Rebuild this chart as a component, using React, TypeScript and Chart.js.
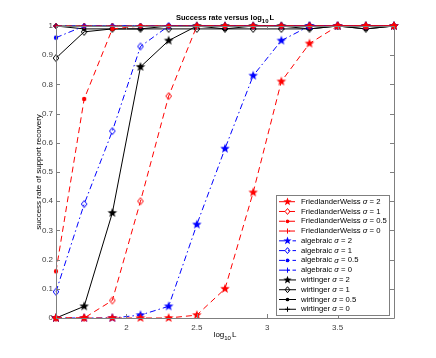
import React, { useEffect, useRef } from "react";
import { Chart, registerables } from "chart.js";

Chart.register(...registerables);

const logL = [1.5, 1.7, 1.9, 2.1, 2.3, 2.5, 2.7, 2.9, 3.1, 3.3, 3.5, 3.7, 3.9];
const xTicks = [2, 2.5, 3, 3.5];

const fw2 = [0, 0, 0, 0, 0, 0.01, 0.1, 0.43, 0.81, 0.94, 1, 1, 1];
const fw1 = [0, 0, 0.06, 0.4, 0.76, 1, 1, 1, 1, 1, 1, 1, 1];
const fw05 = [0.16, 0.75, 0.99, 1, 1, 1, 1, 1, 1, 1, 1, 1, 1];
const fw0 = [1, 1, 1, 1, 1, 1, 1, 1, 1, 1, 1, 1, 1];
const alg2 = [0, 0, 0, 0.01, 0.04, 0.32, 0.58, 0.83, 0.95, 1, 1, 1, 1];
const alg1 = [0.09, 0.39, 0.64, 0.93, 1, 1, 1, 1, 1, 1, 1, 1, 1];
const alg05 = [0.96, 1, 1, 1, 1, 1, 1, 1, 1, 1, 1, 1, 1];
const alg0 = [1, 1, 1, 1, 1, 1, 1, 1, 1, 1, 1, 1, 1];
const wir2 = [0, 0.04, 0.36, 0.86, 0.95, 1, 1, 1, 1, 1, 1, 1, 1];
const wir1 = [0.89, 0.98, 0.99, 0.99, 0.99, 0.99, 0.99, 0.99, 0.99, 0.99, 1, 0.99, 1];
const wir05 = [1, 0.99, 0.99, 0.99, 1, 1, 0.99, 1, 1, 0.99, 1, 0.99, 1];
const wir0 = [1, 1, 1, 1, 1, 1, 1, 1, 1, 1, 1, 1, 1];

const methods = ["FriedlanderWeiss", "algebraic", "wirtinger"];
const sigmas = ["2", "1", "0.5", "0"];
const methodColors = ["#ff0000", "#0000ff", "#000000"];
const methodDash = [[6, 4], [6, 3, 1.5, 3], []];
const seriesData = [
  [fw2, fw1, fw05, fw0],
  [alg2, alg1, alg05, alg0],
  [wir2, wir1, wir05, wir0],
];

function drawMarker(ctx: CanvasRenderingContext2D, kind: number, x: number, y: number, color: string, scale = 1) {
  ctx.save();
  ctx.setLineDash([]);
  ctx.strokeStyle = color;
  ctx.fillStyle = color;
  ctx.lineWidth = 1;
  if (kind === 0) {
    const R = 5 * scale, r = 2.1 * scale;
    ctx.beginPath();
    for (let i = 0; i < 10; i++) {
      const a = -Math.PI / 2 + (i * Math.PI) / 5;
      const rr = i % 2 === 0 ? R : r;
      const px = x + rr * Math.cos(a), py = y + rr * Math.sin(a);
      if (i === 0) ctx.moveTo(px, py); else ctx.lineTo(px, py);
    }
    ctx.closePath();
    ctx.fill();
  } else if (kind === 1) {
    ctx.beginPath();
    ctx.moveTo(x, y - 3.5 * scale);
    ctx.lineTo(x + 2.8 * scale, y);
    ctx.lineTo(x, y + 3.5 * scale);
    ctx.lineTo(x - 2.8 * scale, y);
    ctx.closePath();
    ctx.stroke();
  } else if (kind === 2) {
    ctx.beginPath();
    ctx.arc(x, y, 2.2 * scale, 0, Math.PI * 2);
    ctx.fill();
  } else {
    ctx.beginPath();
    ctx.moveTo(x - 3 * scale, y);
    ctx.lineTo(x + 3 * scale, y);
    ctx.moveTo(x, y - 3 * scale);
    ctx.lineTo(x, y + 3 * scale);
    ctx.stroke();
  }
  ctx.restore();
}

function markerImage(kind: number, color: string) {
  const c = document.createElement("canvas");
  c.width = 12;
  c.height = 12;
  const ctx = c.getContext("2d")!;
  drawMarker(ctx, kind, 6, 6, color);
  return c;
}

const FONT = "Liberation Sans, Arial, sans-serif";

function drawSubLabel(ctx: CanvasRenderingContext2D, pre: string, cx: number, y: number, bold: boolean) {
  const w = bold ? "bold " : "";
  const fs = bold ? 7.5 : 8;
  ctx.save();
  ctx.fillStyle = "#000";
  ctx.textBaseline = "alphabetic";
  ctx.font = `${w}${fs}px ${FONT}`;
  const a = pre + "log";
  const wa = ctx.measureText(a).width;
  const wl = ctx.measureText("L").width;
  ctx.font = `${w}6px ${FONT}`;
  const ws = ctx.measureText("10").width;
  const total = wa + ws + wl + 1;
  let x = cx - total / 2;
  ctx.font = `${w}${fs}px ${FONT}`;
  ctx.textAlign = "left";
  ctx.fillText(a, x, y);
  x += wa;
  ctx.font = `${w}6px ${FONT}`;
  ctx.fillText("10", x, y + 3);
  x += ws + 1;
  ctx.font = `${w}${fs}px ${FONT}`;
  ctx.fillText("L", x, y);
  ctx.restore();
}

const decorPlugin = {
  id: "decor",
  afterDraw(chart: any) {
    const ctx = chart.ctx as CanvasRenderingContext2D;
    const { left, right, top, bottom } = chart.chartArea;
    const xs = chart.scales.x, ys = chart.scales.y;
    ctx.save();
    ctx.strokeStyle = "#7f7f7f";
    ctx.lineWidth = 1;
    ctx.setLineDash([]);
    ctx.beginPath();
    ctx.moveTo(left + 0.5, top + 0.5);
    ctx.lineTo(right + 0.5, top + 0.5);
    ctx.lineTo(right + 0.5, bottom + 0.5);
    ctx.lineTo(left + 0.5, bottom + 0.5);
    ctx.closePath();
    ctx.stroke();
    ctx.beginPath();
    for (let v = 0; v <= 10; v++) {
      const py = Math.round(ys.getPixelForValue(v / 10)) + 0.5;
      ctx.moveTo(left, py); ctx.lineTo(left + 4, py);
      ctx.moveTo(right, py); ctx.lineTo(right - 4, py);
    }
    for (const t of xTicks) {
      const px = Math.round(xs.getPixelForValue(t)) + 0.5;
      ctx.moveTo(px, bottom); ctx.lineTo(px, bottom - 4);
      ctx.moveTo(px, top); ctx.lineTo(px, top + 4);
    }
    ctx.stroke();
    ctx.restore();

    drawSubLabel(ctx, "Success rate versus ", (left + right) / 2, 20, true);
    drawSubLabel(ctx, "", (left + right) / 2, 337, false);

    ctx.save();
    ctx.translate(39, (top + bottom) / 2);
    ctx.rotate(-Math.PI / 2);
    ctx.font = `8px ${FONT}`;
    ctx.fillStyle = "#000";
    ctx.textAlign = "center";
    ctx.textBaseline = "middle";
    ctx.fillText("success rate of support recovery", 0, 0);
    ctx.restore();

    // legend
    const lx = 276, ly = 195, lw = 113, lh = 120, rowH = 9.78;
    ctx.save();
    ctx.fillStyle = "#fff";
    ctx.fillRect(lx, ly, lw, lh);
    ctx.strokeStyle = "#7f7f7f";
    ctx.lineWidth = 1;
    ctx.strokeRect(lx + 0.5, ly + 0.5, lw, lh);
    for (let m = 0; m < 3; m++) {
      for (let s = 0; s < 4; s++) {
        const i = m * 4 + s;
        const yy = ly + 6.7 + i * rowH;
        ctx.strokeStyle = methodColors[m];
        ctx.lineWidth = 1;
        ctx.setLineDash(methodDash[m]);
        ctx.beginPath();
        ctx.moveTo(279, yy);
        ctx.lineTo(296, yy);
        ctx.stroke();
        ctx.setLineDash([]);
        drawMarker(ctx, s, 287.5, yy, methodColors[m], 0.85);
        ctx.fillStyle = "#000";
        ctx.textBaseline = "middle";
        ctx.textAlign = "left";
        let tx = 301;
        ctx.font = `7.7px ${FONT}`;
        const p1 = methods[m] + " ";
        ctx.fillText(p1, tx, yy);
        tx += ctx.measureText(p1).width;
        ctx.font = `italic 7.7px ${FONT}`;
        ctx.fillText("σ", tx, yy);
        tx += ctx.measureText("σ").width;
        ctx.font = `7.7px ${FONT}`;
        ctx.fillText(" = " + sigmas[s], tx, yy);
      }
    }
    ctx.restore();
  },
};

export default function App() {
  const ref = useRef<HTMLCanvasElement>(null);
  useEffect(() => {
    const datasets: any[] = [];
    for (let m = 0; m < 3; m++) {
      for (let s = 0; s < 4; s++) {
        const img = markerImage(s, methodColors[m]);
        datasets.push({
          label: `${methods[m]} σ = ${sigmas[s]}`,
          data: logL.map((x, k) => ({ x, y: seriesData[m][s][k] })),
          borderColor: methodColors[m],
          backgroundColor: methodColors[m],
          borderWidth: 1,
          borderDash: methodDash[m],
          pointStyle: img,
          pointRadius: 5,
          pointHoverRadius: 5,
          tension: 0,
          fill: false,
          clip: false,
        });
      }
    }
    const chart = new Chart(ref.current!, {
      type: "line",
      data: { datasets },
      options: {
        animation: false,
        responsive: false,
        events: [],
        layout: { padding: { top: 26, right: 42, left: 0, bottom: 0 } },
        plugins: { legend: { display: false }, title: { display: false }, tooltip: { enabled: false } },
        scales: {
          x: {
            type: "linear",
            min: 1.5,
            max: 3.9,
            afterBuildTicks: (s: any) => {
              s.ticks = xTicks.map((v) => ({ value: v }));
            },
            afterFit: (s: any) => {
              s.height = 40;
            },
            grid: { display: false, drawTicks: false, tickLength: 0 },
            border: { display: false },
            ticks: {
              font: { size: 8, family: FONT },
              color: "#404040",
              padding: 5,
              maxRotation: 0,
              autoSkip: false,
              callback: (v: any) => String(v),
            },
          },
          y: {
            min: 0,
            max: 1,
            afterFit: (s: any) => {
              s.width = 56;
            },
            grid: { display: false, drawTicks: false, tickLength: 0 },
            border: { display: false },
            ticks: {
              stepSize: 0.1,
              font: { size: 8, family: FONT },
              color: "#404040",
              padding: 3,
              callback: (v: any) => String(Math.round(Number(v) * 10) / 10),
            },
          },
        },
      },
      plugins: [decorPlugin],
    });
    return () => chart.destroy();
  }, []);
  return (
    <div style={{ position: "fixed", left: 0, top: 0, width: 436, height: 358, background: "#fff" }}>
      <canvas ref={ref} width={436} height={358} style={{ width: 436, height: 358, display: "block" }} />
    </div>
  );
}
